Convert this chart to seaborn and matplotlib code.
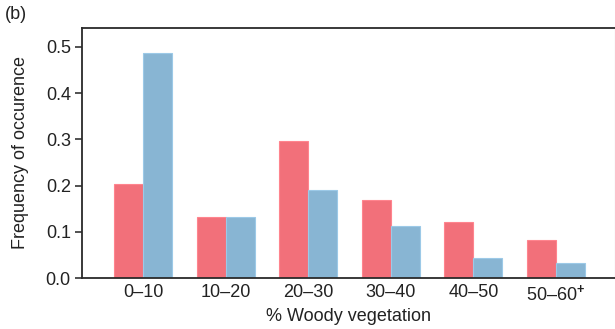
import matplotlib
matplotlib.use("Agg")
import matplotlib.pyplot as plt
import seaborn as sns
import pandas as pd

categories = ["0–10", "10–20", "20–30", "30–40", "40–50", "50–60$^{\\mathbf{+}}$"]
series_a = [0.203, 0.131, 0.297, 0.169, 0.121, 0.082]
series_b = [0.487, 0.131, 0.190, 0.113, 0.043, 0.032]
series_names = ["A", "B"]
yticks = [0.0, 0.1, 0.2, 0.3, 0.4, 0.5]

sns.set_theme(style="ticks")
plt.rcParams['font.family'] = ['Liberation Sans', 'DejaVu Sans']
plt.rcParams['mathtext.fontset'] = 'custom'
plt.rcParams['mathtext.rm'] = 'Liberation Sans'
plt.rcParams['mathtext.bf'] = 'Liberation Sans:bold'

df = pd.DataFrame({
    "cat": categories * 2,
    "val": series_a + series_b,
    "series": [series_names[0]] * len(categories) + [series_names[1]] * len(categories),
})

fig = plt.figure(figsize=(6.15, 3.29), dpi=100)
ax = fig.add_axes([0.1333, 0.155, 0.866, 0.760])
sns.barplot(data=df, x="cat", y="val", hue="series", order=categories,
            palette=["#F2707A", "#88B5D3"], width=0.7, saturation=1,
            legend=False, ax=ax, edgecolor="none")
for p in ax.patches:
    fc = p.get_facecolor()
    p.set_edgecolor((min(1, fc[0] + 0.08), min(1, fc[1] + 0.08), min(1, fc[2] + 0.08)))
    p.set_linewidth(0.8)

ax.set_xlim(-0.74, 5.71)
ax.set_ylim(0, 0.541)
ax.set_yticks(yticks)
ax.set_yticklabels([f"{t:.1f}" for t in yticks])
ax.tick_params(axis="y", length=5, width=1.2, color="#333333", labelsize=13, pad=3)
ax.tick_params(axis="x", length=0, labelsize=13, pad=4)
for s in ax.spines.values():
    s.set_color("#2a2a2a")
    s.set_linewidth(1.3)
ax.spines["right"].set_color("#bbbbbb")
ax.spines["right"].set_linewidth(0.8)
ax.set_xlabel("% Woody vegetation", fontsize=13, labelpad=3, color="#222222")
ax.set_ylabel("Frequency of occurence", fontsize=13, labelpad=12, color="#222222")
for lab in ax.get_xticklabels() + ax.get_yticklabels():
    lab.set_color("#222222")
fig.text(0.008, 0.955, "(b)", fontsize=13, va="center", ha="left", color="#222222")
fig.savefig("out.png", dpi=100)
